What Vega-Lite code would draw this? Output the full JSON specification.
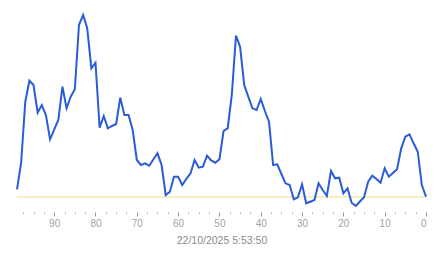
{
  "$schema": "https://vega.github.io/schema/vega-lite/v6.json",
  "width": 409,
  "height": 197,
  "autosize": {"type": "none"},
  "padding": {"left": 17, "top": 10, "right": 17, "bottom": 51},
  "background": "white",
  "config": {
    "view": {"stroke": null},
    "font": "Liberation Sans"
  },
  "layer": [
    {
      "data": {"values": [{"ref": 10}]},
      "mark": {"type": "rule", "color": "#efdc86", "strokeWidth": 1},
      "encoding": {"y": {"field": "ref", "type": "quantitative", "axis": null}}
    },
    {
      "data": {
        "values": [
          {"t": 99, "v": 17.7}, {"t": 98, "v": 44}, {"t": 97, "v": 105}, {"t": 96, "v": 126.3},
          {"t": 95, "v": 122}, {"t": 94, "v": 94.3}, {"t": 93, "v": 102}, {"t": 92, "v": 92},
          {"t": 91, "v": 67.7}, {"t": 90, "v": 77.3}, {"t": 89, "v": 87}, {"t": 88, "v": 120.3},
          {"t": 87, "v": 98.7}, {"t": 86, "v": 110.3}, {"t": 85, "v": 117.7}, {"t": 84, "v": 182},
          {"t": 83, "v": 192}, {"t": 82, "v": 178.7}, {"t": 81, "v": 138.7}, {"t": 80, "v": 144.3},
          {"t": 79, "v": 79.3}, {"t": 78, "v": 91}, {"t": 77, "v": 78.7}, {"t": 76, "v": 81},
          {"t": 75, "v": 83}, {"t": 74, "v": 109.3}, {"t": 73, "v": 92}, {"t": 72, "v": 92},
          {"t": 71, "v": 77}, {"t": 70, "v": 47}, {"t": 69, "v": 42}, {"t": 68, "v": 43.7},
          {"t": 67, "v": 41.3}, {"t": 66, "v": 47.5}, {"t": 65, "v": 53.7}, {"t": 64, "v": 42},
          {"t": 63, "v": 12}, {"t": 62, "v": 15.3}, {"t": 61, "v": 30.3}, {"t": 60, "v": 30.3},
          {"t": 59, "v": 22}, {"t": 58, "v": 28.2}, {"t": 57, "v": 33.7}, {"t": 56, "v": 47},
          {"t": 55, "v": 39.3}, {"t": 54, "v": 40.3}, {"t": 53, "v": 51.3}, {"t": 52, "v": 46.5},
          {"t": 51, "v": 44.3}, {"t": 50, "v": 47.7}, {"t": 49, "v": 76}, {"t": 48, "v": 78.7},
          {"t": 47, "v": 112.4}, {"t": 46, "v": 171.3}, {"t": 45, "v": 160.3}, {"t": 44, "v": 122},
          {"t": 43, "v": 110.2}, {"t": 42, "v": 98.7}, {"t": 41, "v": 97}, {"t": 40, "v": 108},
          {"t": 39, "v": 96}, {"t": 38, "v": 85.3}, {"t": 37, "v": 42}, {"t": 36, "v": 42.7},
          {"t": 35, "v": 33}, {"t": 34, "v": 23.7}, {"t": 33, "v": 22}, {"t": 32, "v": 7.7},
          {"t": 31, "v": 9.7}, {"t": 30, "v": 22.7}, {"t": 29, "v": 3.7}, {"t": 28, "v": 5.3},
          {"t": 27, "v": 7}, {"t": 26, "v": 23.7}, {"t": 25, "v": 17}, {"t": 24, "v": 11},
          {"t": 23, "v": 36}, {"t": 22, "v": 28.7}, {"t": 21, "v": 29.3}, {"t": 20, "v": 13.7},
          {"t": 19, "v": 18.7}, {"t": 18, "v": 4.3}, {"t": 17, "v": 1}, {"t": 16, "v": 5.5},
          {"t": 15, "v": 9.7}, {"t": 14, "v": 25.3}, {"t": 13, "v": 31.3}, {"t": 12, "v": 28},
          {"t": 11, "v": 24.3}, {"t": 10, "v": 38.7}, {"t": 9, "v": 30.3}, {"t": 8, "v": 34},
          {"t": 7, "v": 37.7}, {"t": 6, "v": 58.7}, {"t": 5, "v": 70.3}, {"t": 4, "v": 72.7},
          {"t": 3, "v": 63.7}, {"t": 2, "v": 55.3}, {"t": 1, "v": 22}, {"t": 0, "v": 10.3}
        ]
      },
      "mark": {"type": "line", "color": "#2a5cd8", "strokeWidth": 2, "interpolate": "linear"},
      "encoding": {
        "x": {
          "field": "t", "type": "quantitative",
          "scale": {"domain": [0, 99], "reverse": true, "nice": false, "zero": false},
          "axis": {
            "values": [0, 2.5, 5, 7.5, 10, 12.5, 15, 17.5, 20, 22.5, 25, 27.5, 30, 32.5, 35, 37.5, 40, 42.5, 45, 47.5, 50, 52.5, 55, 57.5, 60, 62.5, 65, 67.5, 70, 72.5, 75, 77.5, 80, 82.5, 85, 87.5, 90, 92.5, 95, 97.5],
            "labelExpr": "datum.value % 10 === 0 ? datum.label : ''",
            "domain": false, "grid": false,
            "title": "22/10/2025 5:53:50",
            "offset": 5,
            "tickSize": {"condition": {"test": "datum.value % 10 === 0", "value": 4}, "value": 1.5},
            "tickColor": "#9a9a9a", "tickWidth": 1,
            "labelFontSize": 10, "labelColor": "#a3a3a3", "labelPadding": 2, "labelFont": "Liberation Sans",
            "titleFontSize": 10.5, "titleFontWeight": "normal", "titleColor": "#8c8c8c", "titlePadding": 7, "titleFont": "Liberation Sans"
          }
        },
        "y": {"field": "v", "type": "quantitative", "scale": {"domain": [0, 197], "nice": false, "zero": false}, "axis": null}
      }
    }
  ]
}
